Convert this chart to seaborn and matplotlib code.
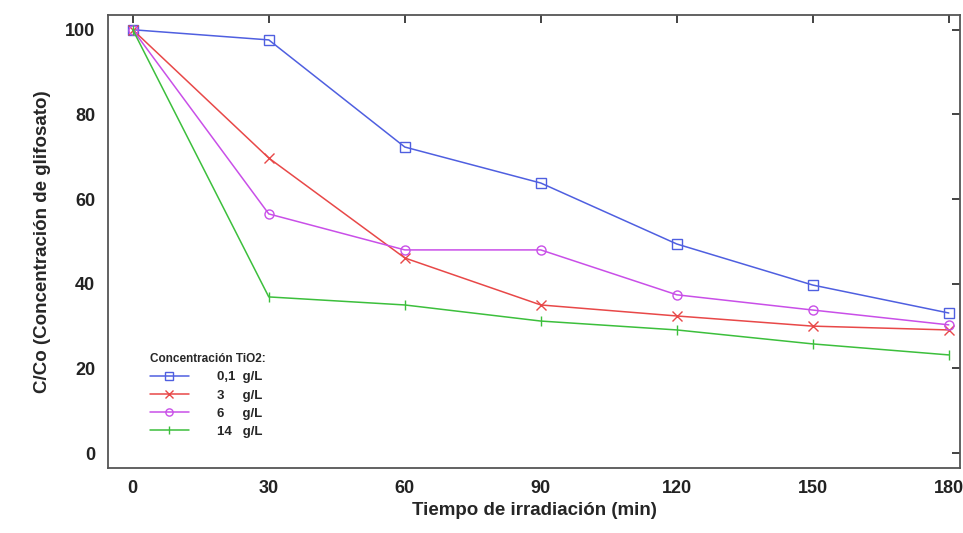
import matplotlib
matplotlib.use("Agg")
import matplotlib.pyplot as plt
import seaborn as sns
import pandas as pd
from matplotlib import font_manager

time_min = [0, 30, 60, 90, 120, 150, 180]
c_01 = [100, 97.6, 72.3, 63.8, 49.4, 39.7, 33.1]
c_3 = [100, 69.7, 46.1, 35.0, 32.4, 30.0, 29.1]
c_6 = [100, 56.5, 48.0, 48.0, 37.4, 33.8, 30.3]
c_14 = [100, 36.9, 35.0, 31.2, 29.1, 25.8, 23.2]
series_labels = ["0,1  g/L", "3     g/L", "6     g/L", "14   g/L"]
legend_title = "Concentración TiO2:"
x_ticks = [0, 30, 60, 90, 120, 150, 180]
y_ticks = [0, 20, 40, 60, 80, 100]

sns.set_theme(style="white")
names = {f.name for f in font_manager.fontManager.ttflist}
fam = "Liberation Sans Narrow" if "Liberation Sans Narrow" in names else "Liberation Sans"
plt.rcParams["font.family"] = [fam, "DejaVu Sans"]

fig = plt.figure(figsize=(9.63, 5.33), dpi=100)
ax = fig.add_axes([0.112, 0.122, 0.885, 0.85])

colors = ["#4f5fe0", "#e84848", "#c94fe8", "#3cbf3c"]
markers = ["s", "x", "o", "|"]
for vals, lab, col, mk in zip([c_01, c_3, c_6, c_14], series_labels, colors, markers):
    df = pd.DataFrame({"t": time_min, "c": vals})
    sns.lineplot(data=df, x="t", y="c", ax=ax, color=col, marker=mk, markersize=6.5,
                 markerfacecolor="none", markeredgecolor=col, markeredgewidth=1.0,
                 linewidth=1.1, label=lab)

ax.set_xlim(-5.5, 182.5)
ax.set_ylim(-3.5, 103.5)
ax.set_xticks(x_ticks)
ax.set_yticks(y_ticks)
ax.tick_params(direction="in", length=6, width=1.2, top=True, right=True,
               labelsize=13, colors="#222222", pad=9)
for lbl in ax.get_xticklabels() + ax.get_yticklabels():
    lbl.set_fontweight("bold")
for s in ax.spines.values():
    s.set_color("#555555")
    s.set_linewidth(1.3)
ax.set_xlabel("Tiempo de irradiación (min)", fontsize=13.5, fontweight="bold", labelpad=3)
ax.set_ylabel("C/Co (Concentración de glifosato)", fontsize=13.5, fontweight="bold", labelpad=10)

leg = ax.legend(title=legend_title, loc="lower left", bbox_to_anchor=(0.035, 0.04),
                frameon=False, fontsize=9.5, title_fontsize=8.5, handlelength=3.0,
                labelspacing=0.45, handletextpad=2.1, markerscale=0.8)
leg.get_title().set_fontweight("bold")
leg._legend_box.align = "left"
for t in leg.get_texts():
    t.set_fontweight("bold")

fig.savefig("out.png", dpi=100)
